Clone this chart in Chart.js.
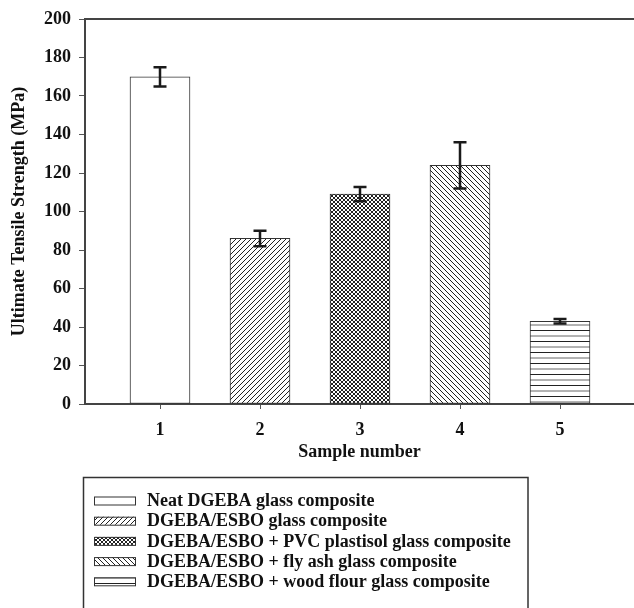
<!DOCTYPE html>
<html>
<head>
<meta charset="utf-8">
<script src="https://cdn.jsdelivr.net/npm/chart.js@4/dist/chart.umd.min.js"></script>
<style>
  body { margin: 0; background: #fff; }
  #wrap { width: 634px; height: 608px; }
</style>
</head>
<body>
<div id="wrap"><canvas id="chart" width="634" height="608"></canvas></div>
<script>
const samples = [1, 2, 3, 4, 5];
const strength = [170, 86, 109, 124, 43];
const errors = [5, 4, 3.7, 12, 1.2];
const yTicks = [0, 20, 40, 60, 80, 100, 120, 140, 160, 180, 200];
const legendLabels = [
  "Neat DGEBA glass composite",
  "DGEBA/ESBO glass composite",
  "DGEBA/ESBO + PVC plastisol glass composite",
  "DGEBA/ESBO + fly ash glass composite",
  "DGEBA/ESBO + wood flour glass composite"
];
const fills = ["none", "fwd", "cross", "back", "horiz"];

const FONT = "'Liberation Serif', 'Times New Roman', serif";
const INK = "#111";

function makePattern(kind) {
  if (kind === "none") return "#ffffff";
  const c = document.createElement("canvas");
  const g = c.getContext("2d");
  let s = 5;
  if (kind === "cross") s = 4;
  if (kind === "horiz") { c.width = 4; c.height = 11; }
  else { c.width = s; c.height = s; }
  g.fillStyle = "#fff";
  g.fillRect(0, 0, c.width, c.height);
  g.strokeStyle = "#222";
  g.lineWidth = 1;
  g.beginPath();
  if (kind === "fwd" || kind === "cross") {
    g.moveTo(-1, s + 1); g.lineTo(s + 1, -1);
    g.moveTo(-1, 1); g.lineTo(1, -1);
    g.moveTo(s - 1, s + 1); g.lineTo(s + 1, s - 1);
  }
  if (kind === "back" || kind === "cross") {
    g.moveTo(-1, -1); g.lineTo(s + 1, s + 1);
    g.moveTo(s - 1, -1); g.lineTo(s + 1, 1);
    g.moveTo(-1, s - 1); g.lineTo(1, s + 1);
  }
  if (kind === "horiz") {
    g.moveTo(0, 0.5); g.lineTo(4, 0.5);
  }
  g.stroke();
  if (kind === "horiz") {
    g.strokeStyle = "#666";
    g.beginPath();
    g.moveTo(0, 6); g.lineTo(4, 6);
    g.stroke();
  }
  return g.createPattern(c, "repeat");
}

const patterns = fills.map(makePattern);

const errorBars = {
  id: "errorBars",
  afterDatasetsDraw(chart) {
    const ctx = chart.ctx;
    const y = chart.scales.y;
    const meta = chart.getDatasetMeta(0);
    ctx.save();
    ctx.strokeStyle = "#1a1a1a";
    ctx.lineWidth = 2.5;
    meta.data.forEach((bar, i) => {
      const top = y.getPixelForValue(strength[i] + errors[i]);
      const bot = y.getPixelForValue(strength[i] - errors[i]);
      ctx.beginPath();
      ctx.moveTo(bar.x, top); ctx.lineTo(bar.x, bot);
      ctx.moveTo(bar.x - 6.5, top); ctx.lineTo(bar.x + 6.5, top);
      ctx.moveTo(bar.x - 6.5, bot); ctx.lineTo(bar.x + 6.5, bot);
      ctx.stroke();
    });
    ctx.restore();
  }
};

const frameAndLegend = {
  id: "frameAndLegend",
  afterDraw(chart) {
    const ctx = chart.ctx;
    const a = chart.chartArea;
    ctx.save();
    // top frame line
    ctx.strokeStyle = "#444";
    ctx.lineWidth = 2;
    ctx.beginPath();
    ctx.moveTo(a.left, a.top); ctx.lineTo(a.right, a.top);
    ctx.stroke();

    // legend box
    ctx.strokeStyle = "#333";
    ctx.lineWidth = 1.5;
    ctx.strokeRect(83.5, 477.5, 444.5, 160);
    ctx.font = "bold 18px " + FONT;
    ctx.textBaseline = "middle";
    ctx.fillStyle = INK;
    legendLabels.forEach((lab, i) => {
      const cy = 500.5 + i * 20.2;
      ctx.fillStyle = patterns[i];
      ctx.fillRect(94, cy - 4, 42, 8);
      ctx.strokeStyle = "#333";
      ctx.lineWidth = 1;
      ctx.strokeRect(94.5, cy - 3.5, 41, 8);
      ctx.fillStyle = INK;
      ctx.fillText(lab, 147, cy + 1);
    });
    ctx.restore();
  }
};

new Chart(document.getElementById("chart"), {
  type: "bar",
  data: {
    datasets: [{
      data: samples.map((s, i) => ({ x: s, y: strength[i] })),
      backgroundColor: patterns,
      borderColor: "#333",
      borderWidth: 1,
      borderSkipped: false,
      barThickness: 60
    }]
  },
  options: {
    responsive: false,
    animation: false,
    devicePixelRatio: 1,
    layout: { padding: { top: 19, left: 0, right: 0, bottom: 144 } },
    plugins: { legend: { display: false }, tooltip: { enabled: false } },
    scales: {
      x: {
        type: "linear",
        min: 0.25,
        max: 5.74,
        offset: false,
        afterBuildTicks: axis => { axis.ticks = samples.map(v => ({ value: v })); },
        afterFit: s => { s.height = 60; },
        grid: { drawOnChartArea: false, offset: false, tickLength: 5, color: "#555" },
        border: { display: true, color: "#444", width: 2 },
        ticks: { color: INK, padding: 11, font: { family: FONT, size: 18, weight: "bold" } },
        title: {
          display: true,
          text: "Sample number",
          color: INK,
          padding: { top: 0, bottom: 1 },
          font: { family: FONT, size: 18, weight: "bold" }
        }
      },
      y: {
        min: 0,
        max: 200,
        afterBuildTicks: axis => { axis.ticks = yTicks.map(v => ({ value: v })); },
        afterFit: s => { s.width = 85; },
        grid: { drawOnChartArea: false, tickLength: 6, color: "#555" },
        border: { display: true, color: "#444", width: 2 },
        ticks: { color: INK, padding: 8, font: { family: FONT, size: 18, weight: "bold" } },
        title: {
          display: true,
          text: "Ultimate Tensile Strength (MPa)",
          color: INK,
          padding: { top: 9, bottom: 0 },
          font: { family: FONT, size: 18, weight: "bold" }
        }
      }
    }
  },
  plugins: [errorBars, frameAndLegend]
});
</script>
</body>
</html>
